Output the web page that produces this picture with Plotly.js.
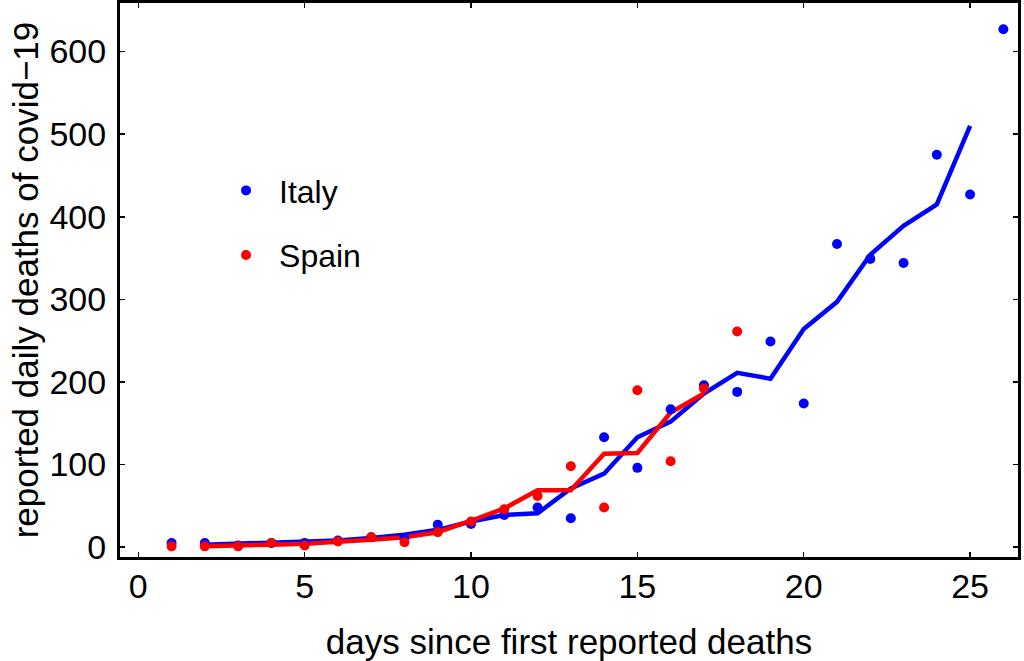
<!DOCTYPE html>
<html>
<head>
<meta charset="utf-8">
<script src="https://cdn.plot.ly/plotly-3.0.1.min.js"></script>
<style>html,body{margin:0;padding:0;background:#fff;}#chart{width:1024px;height:661px;}</style>
</head>
<body>
<div id="chart"></div>
<script>
// Daily reported deaths (dots)
const italyDays = [1,2,3,4,5,6,7,8,9,10,11,12,13,14,15,16,17,18,19,20,21,22,23,24,25,26];
const italyDeaths = [5,5,2,5,5,8,12,11,27,28,39,48,35,133,96,167,196,188,249,174,367,349,344,475,427,627];
const spainDays = [1,2,3,4,5,6,7,8,9,10,11,12,13,14,15,16,17,18];
const spainDeaths = [1,1,1,5,2,7,12,6,18,31,46,62,98,48,190,104,192,261];
// Smoothed curves (lines)
const italyTrendDays = [2,3,4,5,6,7,8,9,10,11,12,13,14,15,16,17,18,19,20,21,22,23,24,25];
const italyTrend = [3,4,5,6,8,11,15,21,31,39,41,71,89,133,152,186,211,204,264,297,354,389,415,510];
const spainTrendDays = [2,3,4,5,6,7,8,9,10,11,12,13,14,15,16,17];
const spainTrend = [1,1.5,3,4,6,9,12,18,32,47,69,69,113,114,163,186];

const BLUE = '#0000ff', RED = '#ff0000';
const FONT = 'Liberation Sans, Arial, sans-serif';

const traces = [
  {x: italyTrendDays, y: italyTrend, mode: 'lines', line: {color: BLUE, width: 4.5}, showlegend: false, hoverinfo: 'skip'},
  {x: spainTrendDays, y: spainTrend, mode: 'lines', line: {color: RED, width: 4.5}, showlegend: false, hoverinfo: 'skip'},
  {x: italyDays, y: italyDeaths, mode: 'markers', name: 'Italy', legendgroup: 'a', marker: {color: BLUE, size: 10}},
  {x: spainDays, y: spainDeaths, mode: 'markers', name: 'Spain', legendgroup: 'b', marker: {color: RED, size: 10}}
];

const axisCommon = {
  showgrid: false, zeroline: false,
  showline: true, mirror: 'ticks', linecolor: '#000', linewidth: 3,
  ticks: 'inside', ticklen: 5, tickwidth: 1.5, tickcolor: '#000',
  tickfont: {family: FONT, size: 34, color: '#000'}
};

const layout = {
  width: 1024, height: 661,
  margin: {l: 120, r: 6, t: 3, b: 104},
  paper_bgcolor: '#fff', plot_bgcolor: '#fff',
  font: {family: FONT, color: '#000'},
  xaxis: Object.assign({}, axisCommon, {
    range: [-0.55, 26.44], tickvals: [0,5,10,15,20,25],
    ticklabelstandoff: -3,
    title: {text: 'days since first reported deaths', font: {family: FONT, size: 35, color: '#000'}, standoff: 27}
  }),
  yaxis: Object.assign({}, axisCommon, {
    range: [-11.9, 658.8], tickvals: [0,100,200,300,400,500,600],
    ticklabelstandoff: 4,
    title: {text: 'reported daily deaths of covid\u221219', font: {family: FONT, size: 35, color: '#000'}, standoff: 1}
  }),
  legend: {
    x: 0.1036, y: 0.711, xanchor: 'left', yanchor: 'top',
    bgcolor: 'rgba(0,0,0,0)', borderwidth: 0,
    font: {family: FONT, size: 32, color: '#000'},
    traceorder: 'grouped', tracegroupgap: 20, itemwidth: 56
  },
  showlegend: true
};

Plotly.newPlot('chart', traces, layout, {displayModeBar: false, staticPlot: true});
</script>
</body>
</html>
